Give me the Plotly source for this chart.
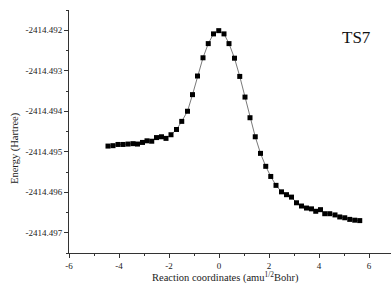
import plotly.graph_objects as go

reaction_coord = [-4.44, -4.24, -4.04, -3.84, -3.64, -3.44, -3.26, -3.06, -2.88, -2.69,
                  -2.50, -2.30, -2.12, -1.92, -1.70, -1.49, -1.26, -1.06, -0.86, -0.64,
                  -0.43, -0.22, -0.01, 0.20, 0.40, 0.62, 0.83, 1.04, 1.24, 1.45,
                  1.66, 1.87, 2.07, 2.28, 2.50, 2.70, 2.90, 3.10, 3.30, 3.50,
                  3.70, 3.87, 4.06, 4.23, 4.43, 4.64, 4.83, 5.03, 5.23, 5.43, 5.63]
energy = [-2414.49486, -2414.49485, -2414.49482, -2414.49482, -2414.49481, -2414.49480,
          -2414.49481, -2414.49477, -2414.49473, -2414.49474, -2414.49465, -2414.49463,
          -2414.49467, -2414.49458, -2414.49445, -2414.49425, -2414.49400, -2414.49359,
          -2414.49313, -2414.49268, -2414.49233, -2414.49209, -2414.49201, -2414.49209,
          -2414.49233, -2414.49269, -2414.49314, -2414.49365, -2414.49416, -2414.49463,
          -2414.49504, -2414.49536, -2414.49561, -2414.49583, -2414.49599, -2414.49606,
          -2414.49612, -2414.49626, -2414.49634, -2414.49639, -2414.49641, -2414.49647,
          -2414.49643, -2414.49653, -2414.49653, -2414.49656, -2414.49661, -2414.49663,
          -2414.49667, -2414.49669, -2414.49670]

y_tick_vals = [-2414.492, -2414.493, -2414.494, -2414.495, -2414.496, -2414.497]
y_tick_text = ["-2414.492", "-2414.493", "-2414.494", "-2414.495", "-2414.496", "-2414.497"]
x_tick_vals = [-6, -4, -2, 0, 2, 4, 6]
x_tick_text = ["-6", "-4", "-2", "0", "2", "4", "6"]

FONT = "Liberation Serif"
W, H = 391, 288
L, R, T, B = 69, 0, 10, 35
PW, PH = W - L - R, H - T - B


def px(xp):
    return (xp - L) / PW


def py(yp):
    return 1 - (yp - T) / PH


fig = go.Figure()
fig.add_trace(go.Scatter(
    x=reaction_coord, y=energy, mode="lines+markers",
    line=dict(color="#555555", width=0.8),
    marker=dict(symbol="square", size=5, color="black", line=dict(width=0)),
    showlegend=False,
))

fig.update_layout(
    width=W, height=H,
    margin=dict(l=L, r=R, t=T, b=B),
    paper_bgcolor="white", plot_bgcolor="white",
    font=dict(family=FONT, size=9, color="#222222"),
    xaxis=dict(
        range=[-6, 6.88], showline=True, linecolor="#333333", linewidth=1,
        tickvals=x_tick_vals, ticktext=x_tick_text,
        ticks="outside", ticklen=4, tickcolor="#333333", tickwidth=1,
        minor=dict(ticks="outside", ticklen=2, dtick=1, tick0=-6, tickcolor="#333333"),
        showgrid=False, zeroline=False,
        tickfont=dict(family=FONT, size=9),
    ),
    yaxis=dict(
        range=[-2414.4975, -2414.4915], showline=True, linecolor="#333333", linewidth=1,
        tickvals=y_tick_vals, ticktext=y_tick_text,
        ticks="outside", ticklen=4, tickcolor="#333333", tickwidth=1,
        minor=dict(ticks="outside", ticklen=2, dtick=0.0005, tick0=-2414.4975, tickcolor="#333333"),
        showgrid=False, zeroline=False,
        tickfont=dict(family=FONT, size=9),
    ),
    annotations=[
        dict(text="TS7", x=px(356), y=py(37), xref="paper", yref="paper",
             xanchor="center", yanchor="middle", showarrow=False,
             font=dict(family=FONT, size=17, color="#111111")),
        dict(text="Reaction coordinates (amu<sup>1/2</sup>Bohr)", xref="paper", yref="paper",
             x=px(225), y=py(277), xanchor="center", yanchor="middle", showarrow=False,
             font=dict(family=FONT, size=10.5, color="#222222")),
        dict(text="Energy (Hartree)", xref="paper", yref="paper", textangle=-90,
             x=px(15), y=py(148), xanchor="center", yanchor="middle", showarrow=False,
             font=dict(family=FONT, size=10.5, color="#222222")),
    ],
)

fig.write_html("out.html", config={"displayModeBar": False},
               post_script="document.body.style.margin='0';")
